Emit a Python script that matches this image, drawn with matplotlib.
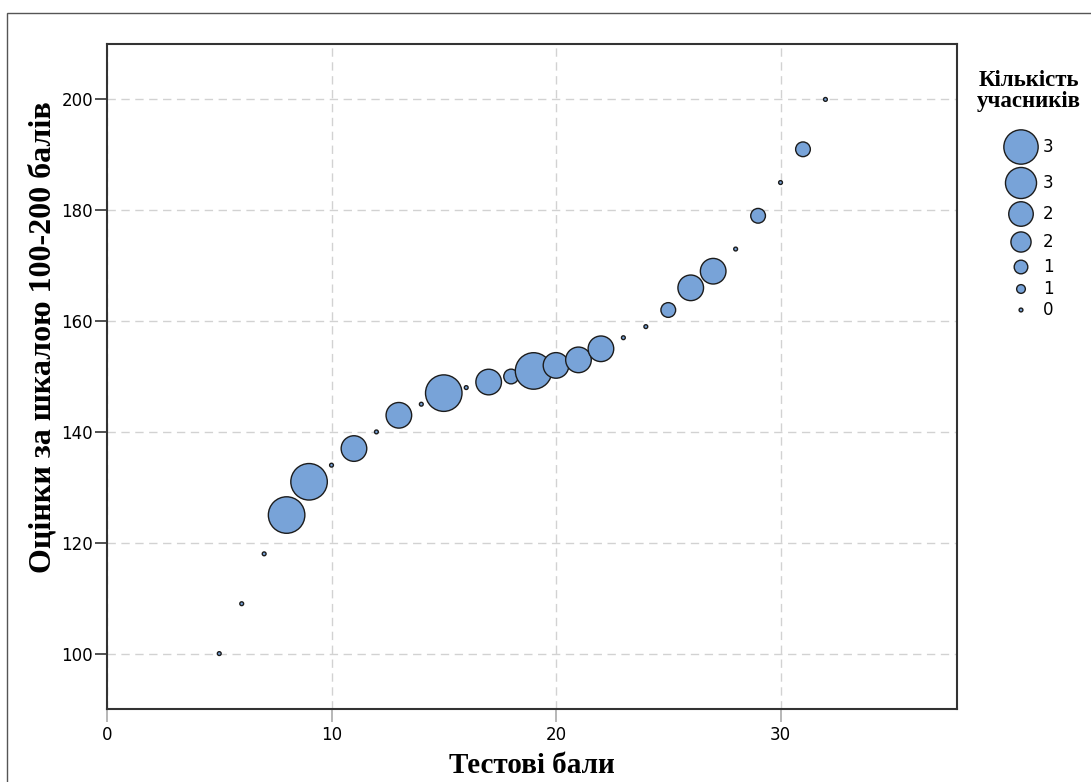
import matplotlib
matplotlib.use("Agg")
import matplotlib.pyplot as plt
from matplotlib.patches import Rectangle

# test scores, scaled scores, number of participants
test_scores = [5, 6, 7, 8, 9, 10, 11, 12, 13, 14, 15, 16, 17, 18, 19, 20,
               21, 22, 23, 24, 25, 26, 27, 28, 29, 30, 31, 32]
scaled = [100, 109, 118, 125, 131, 134, 137, 140, 143, 145, 147, 148, 149, 150,
          151, 152, 153, 155, 157, 159, 162, 166, 169, 173, 179, 185, 191, 200]
counts = [0, 0, 0, 3, 3, 0, 2, 0, 2, 0, 3, 0, 2, 1, 3, 2,
          2, 2, 0, 0, 1, 2, 2, 0, 1, 0, 1, 0]

legend_values = [2.8, 2.5, 1.9, 1.5, 0.9, 0.45, 0]
legend_labels = ["3", "3", "2", "2", "1", "1", "0"]

x_ticks = [0, 10, 20, 30]
y_ticks = [100, 120, 140, 160, 180, 200]

FILL = "#78a3d8"
EDGE = "#1c1c1c"
SERIF = ["Liberation Serif", "DejaVu Serif"]


def marker_area(c):
    # radius in pixels grows linearly with count
    r_px = 2.6 + 5.45 * c
    d_pt = 2 * r_px * 0.72 - 1.0
    return d_pt ** 2


fig = plt.figure(figsize=(10.91, 7.82), dpi=100)

# outer frame around the whole chart
fig.patches.append(Rectangle((7 / 1091, -0.05), 1.1, 1 - 13 / 782 + 0.05,
                             transform=fig.transFigure, fill=False,
                             edgecolor="#555555", linewidth=1.0))

ax = fig.add_axes([107 / 1091, 1 - 709 / 782, 850 / 1091, 665 / 782])

sizes = [marker_area(c) for c in counts]
ax.scatter(test_scores, scaled, s=sizes, c=FILL, edgecolors=EDGE,
           linewidths=1.0, zorder=3)

ax.set_xlim(0, 37.86)
ax.set_ylim(90, 210)
ax.set_xticks(x_ticks)
ax.set_yticks(y_ticks)

ax.grid(True, color="#d2d2d2", linestyle=(0, (6, 4)), linewidth=1.0, zorder=0)
ax.set_axisbelow(True)

for sp in ax.spines.values():
    sp.set_color("#333333")
    sp.set_linewidth(1.5)

ax.tick_params(axis="y", direction="out", length=9, width=1.2, color="#333333",
               labelsize=12, pad=1)
ax.tick_params(axis="x", direction="out", length=9, width=1.2, color="#aaaaaa",
               labelsize=12, pad=3)

ax.set_xlabel("Тестові бали", family=SERIF, fontweight="bold", fontsize=21)
ax.set_ylabel("Оцінки за шкалою 100-200 балів", family=SERIF,
              fontweight="bold", fontsize=23)
ax.xaxis.set_label_coords(532 / 1091, 1 - 752 / 782, transform=fig.transFigure)
ax.yaxis.set_label_coords(58 / 1091, 1 - 337 / 782, transform=fig.transFigure)

# size legend
fig.text(1029 / 1091, 1 - 91 / 782, "Кількість\nучасників", family=SERIF,
         fontweight="bold", fontsize=16.5, ha="center", va="center",
         linespacing=0.95)

lax = fig.add_axes([0, 0, 1, 1], facecolor="none")
lax.set_xlim(0, 1091)
lax.set_ylim(782, 0)
lax.axis("off")
leg_y = [147, 183, 214, 242, 267, 289, 310]
lax.scatter([1021] * len(legend_values), leg_y,
            s=[marker_area(v) for v in legend_values], c=FILL,
            edgecolors=EDGE, linewidths=1.0)
for yy, lab in zip(leg_y, legend_labels):
    lax.text(1043, yy, lab, fontsize=12, va="center", ha="left")

fig.savefig("out.png", dpi=100)
